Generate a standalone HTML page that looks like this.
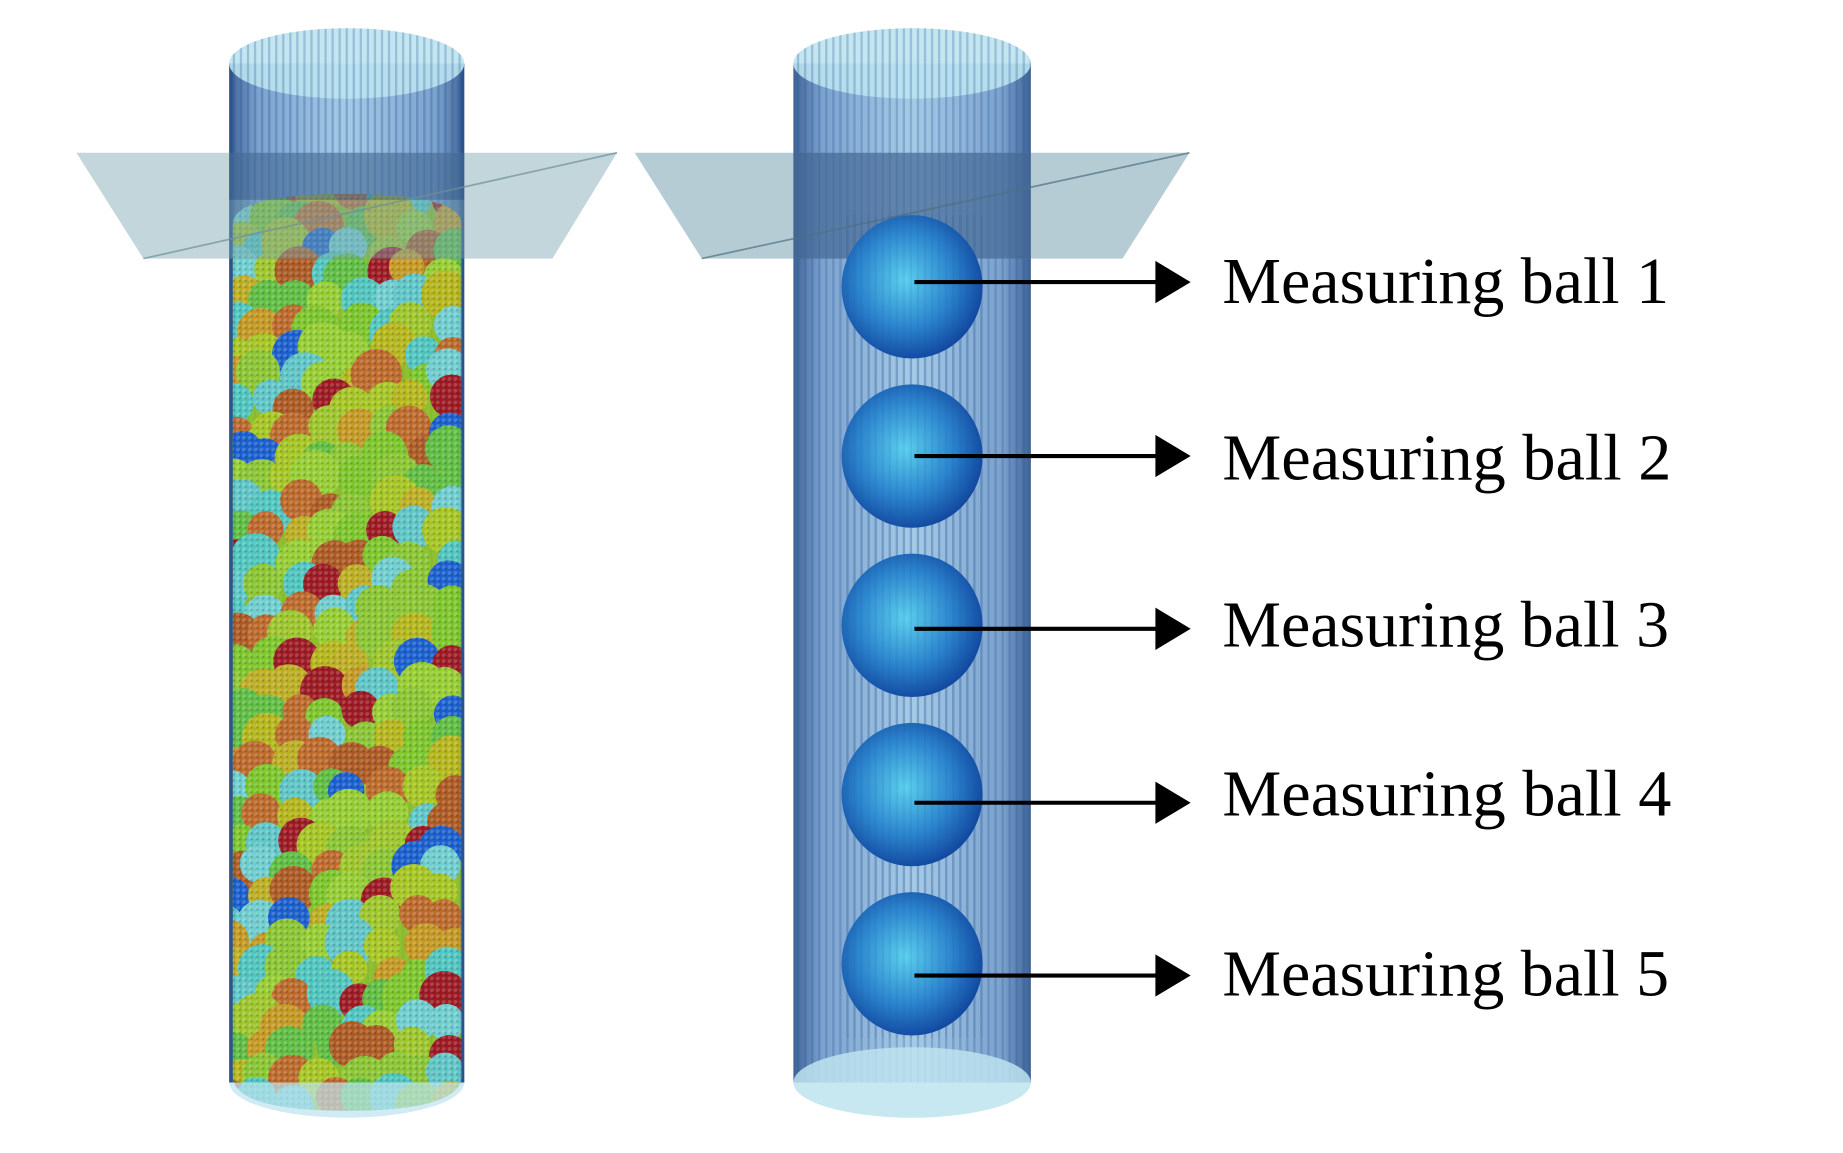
<!DOCTYPE html>
<html><head><meta charset="utf-8"><style>
html,body{margin:0;padding:0;background:#fff;}
svg{display:block}
</style></head><body>
<svg id="s" width="1843" height="1153" viewBox="0 0 1568 981" preserveAspectRatio="none" xmlns="http://www.w3.org/2000/svg">
<defs>
<pattern id="str" width="6" height="10" patternUnits="userSpaceOnUse">
<rect x="0" width="2" height="10" fill="#1f4f8f" opacity="0.25"/>
</pattern>
<linearGradient id="cyl" x1="0" x2="1">
<stop offset="0" stop-color="#1d4683" stop-opacity="0.85"/>
<stop offset="0.12" stop-color="#4f82bd" stop-opacity="0.75"/>
<stop offset="0.5" stop-color="#80b4dc" stop-opacity="0.7"/>
<stop offset="0.88" stop-color="#4f82bd" stop-opacity="0.75"/>
<stop offset="1" stop-color="#1d4683" stop-opacity="0.85"/>
</linearGradient>
<radialGradient id="ball" cx="0.45" cy="0.45" r="0.6">
<stop offset="0" stop-color="#5cd0ee"/>
<stop offset="0.55" stop-color="#2c86cf"/>
<stop offset="1" stop-color="#0d3f9a"/>
</radialGradient>
<pattern id="dots" width="5" height="5" patternUnits="userSpaceOnUse">
<circle cx="2.5" cy="2.5" r="1.7" fill="#fff" opacity="0.18"/>
<circle cx="4" cy="4" r="1" fill="#000" opacity="0.2"/>
</pattern>
<clipPath id="lc"><path d="M198,190 Q200,165 295,165 Q390,165 393,190 L393,915 Q393,945 295,945 Q198,945 198,915 Z"/></clipPath>
</defs>

<!-- left cylinder -->
<rect x="195" y="54" width="200" height="867" fill="url(#cyl)"/>
<rect x="195" y="54" width="200" height="140" fill="url(#str)"/>
<g id="parts" clip-path="url(#lc)">
<rect x="195" y="160" width="200" height="790" fill="#8fc030"/>
</g>
<rect x="195" y="54" width="200" height="867" fill="url(#str)" opacity="0.25"/>
<rect x="195" y="54" width="3" height="867" fill="#1d4683" opacity="0.6"/>
<rect x="392" y="54" width="3" height="867" fill="#1d4683" opacity="0.6"/>
<ellipse cx="295" cy="54" rx="100" ry="30" fill="#bde3ef" opacity="0.9"/>
<ellipse cx="295" cy="54" rx="100" ry="30" fill="url(#str)"/>
<path d="M195,921 A100,30 0 0 0 395,921" fill="#bde3ef" opacity="0.7"/>
<polygon points="65,130 525,130 470,220 122,220" fill="#7aa3b0" opacity="0.45"/>
<rect x="195" y="130" width="200" height="40" fill="#0e2f78" opacity="0.3"/>
<line x1="122" y1="220" x2="525" y2="130" stroke="#6f8f9a" stroke-width="1.5" opacity="0.7"/>

<!-- right cylinder -->
<rect x="675" y="54" width="202" height="867" fill="url(#cyl)"/>
<rect x="675" y="54" width="202" height="867" fill="url(#str)"/>
<ellipse cx="776" cy="54" rx="101" ry="30" fill="#bde3ef" opacity="0.9"/>
<ellipse cx="776" cy="54" rx="101" ry="30" fill="url(#str)"/>
<ellipse cx="776" cy="921" rx="101" ry="30" fill="#bde3ef" opacity="0.85"/>
<polygon points="540,130 1012,130 955,220 597,220" fill="#7aa3b0" opacity="0.55"/>
<rect x="675" y="130" width="202" height="90" fill="#0e2f78" opacity="0.35"/>
<line x1="597" y1="220" x2="1012" y2="130" stroke="#4f7080" stroke-width="1.5" opacity="0.7"/>

<g>
<ellipse cx="776" cy="244" rx="60" ry="61" fill="url(#ball)"/>
<ellipse cx="776" cy="388" rx="60" ry="61" fill="url(#ball)"/>
<ellipse cx="776" cy="532" rx="60" ry="61" fill="url(#ball)"/>
<ellipse cx="776" cy="676" rx="60" ry="61" fill="url(#ball)"/>
<ellipse cx="776" cy="820" rx="60" ry="61" fill="url(#ball)"/>
<rect x="716" y="183" width="120" height="700" fill="url(#str)" opacity="0.4"/>
</g>

<g stroke="#000" stroke-width="3.5">
<line x1="778" y1="240" x2="990" y2="240"/>
<line x1="778" y1="388" x2="990" y2="388"/>
<line x1="778" y1="535" x2="990" y2="535"/>
<line x1="778" y1="683" x2="990" y2="683"/>
<line x1="778" y1="830" x2="990" y2="830"/>
</g>
<g fill="#000">
<polygon points="983,222 1013,240 983,258"/>
<polygon points="983,370 1013,388 983,406"/>
<polygon points="983,517 1013,535 983,553"/>
<polygon points="983,665 1013,683 983,701"/>
<polygon points="983,812 1013,830 983,848"/>
</g>
<g font-family="Liberation Serif, serif" font-size="56" fill="#000">
<text x="1040" y="258" textLength="380" lengthAdjust="spacingAndGlyphs">Measuring ball 1</text>
<text x="1040" y="408" textLength="382" lengthAdjust="spacingAndGlyphs">Measuring ball 2</text>
<text x="1040" y="550" textLength="380" lengthAdjust="spacingAndGlyphs">Measuring ball 3</text>
<text x="1040" y="694" textLength="382" lengthAdjust="spacingAndGlyphs">Measuring ball 4</text>
<text x="1040" y="847" textLength="380" lengthAdjust="spacingAndGlyphs">Measuring ball 5</text>
</g>
</svg>
<script>
(function(){
var g=document.getElementById('parts');var ns='http://www.w3.org/2000/svg';
var seed=11;function r(){seed=(seed*16807)%2147483647;return seed/2147483647;}
var cols=['#7ec828','#a8c820','#c0b020','#50c8c0','#60c040','#b05a20','#a01820','#1a60d0','#c89a20','#70d0d0','#98d030','#c06a28','#8cc830','#b8b818','#60c8c8','#a0c828'];
for(var y=165;y<950;y+=22){for(var x=194;x<400;x+=26){
var cx=x+r()*18-4,cy=y+r()*12-4,rad=15+r()*7;
var c=document.createElementNS(ns,'circle');c.setAttribute('cx',cx);c.setAttribute('cy',cy);c.setAttribute('r',rad);
c.setAttribute('fill',cols[Math.floor(r()*cols.length)]);g.appendChild(c);
var d=document.createElementNS(ns,'circle');d.setAttribute('cx',cx);d.setAttribute('cy',cy);d.setAttribute('r',rad);
d.setAttribute('fill','url(#dots)');g.appendChild(d);}}
})();
</script>
</body></html>
